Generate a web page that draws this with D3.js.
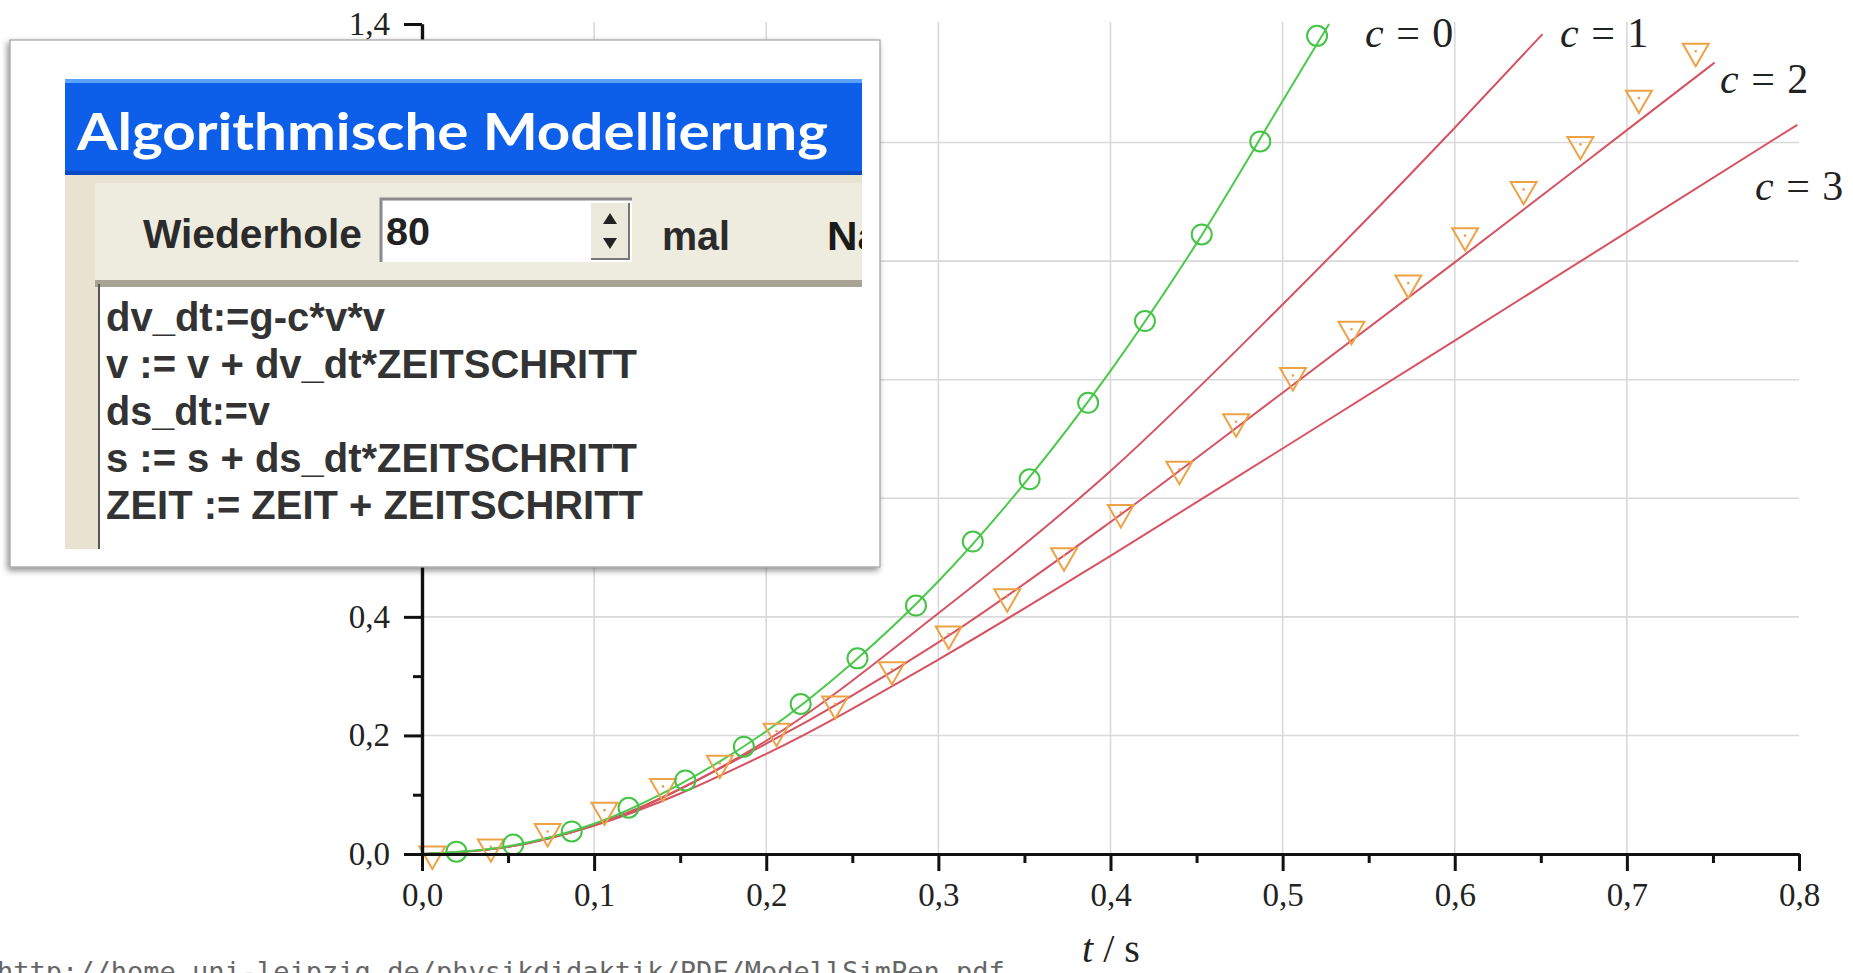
<!DOCTYPE html>
<html>
<head>
<meta charset="utf-8">
<script src="https://cdn.jsdelivr.net/npm/d3@7"></script>
<style>
body { margin: 0; background: #fff; overflow: hidden; }
</style>
</head>
<body>
<script>
// measured points, c = 0 (circles)
var circleT = [0.020, 0.053, 0.087, 0.120, 0.153, 0.187, 0.220, 0.253, 0.287, 0.320, 0.353, 0.387, 0.420, 0.453, 0.487, 0.520];
var circleS = [0.004, 0.016, 0.038, 0.078, 0.124, 0.181, 0.253, 0.330, 0.419, 0.527, 0.632, 0.761, 0.899, 1.045, 1.202, 1.380];

// measured points, triangles
var triT = [0.006, 0.040, 0.073, 0.106, 0.140, 0.173, 0.206, 0.240, 0.273, 0.306, 0.340, 0.373, 0.406, 0.440, 0.473, 0.506, 0.540, 0.573, 0.606, 0.640, 0.673, 0.707, 0.740];
var triS = [0.000, 0.012, 0.038, 0.074, 0.114, 0.153, 0.207, 0.253, 0.311, 0.371, 0.434, 0.503, 0.576, 0.649, 0.729, 0.807, 0.885, 0.963, 1.043, 1.121, 1.197, 1.275, 1.354];

// model curves
var lineT0 = [0, 0.05, 0.1, 0.15, 0.2, 0.25, 0.3, 0.35, 0.4, 0.45, 0.5, 0.527];
var lineS0 = [0, 0.013, 0.051, 0.118, 0.207, 0.322, 0.460, 0.625, 0.815, 1.030, 1.270, 1.400];
var lineT1 = [0, 0.05, 0.1, 0.2, 0.3, 0.4, 0.5, 0.6, 0.651];
var lineS1 = [0, 0.012, 0.049, 0.191, 0.406, 0.646, 0.927, 1.225, 1.383];
var lineT2 = [0, 0.05, 0.1, 0.2, 0.3, 0.4, 0.5, 0.6, 0.7, 0.751];
var lineS2 = [0, 0.012, 0.048, 0.186, 0.357, 0.560, 0.778, 0.998, 1.221, 1.335];
var lineT3 = [0, 0.05, 0.1, 0.2, 0.3, 0.4, 0.5, 0.6, 0.7, 0.799];
var lineS3 = [0, 0.012, 0.048, 0.169, 0.328, 0.503, 0.684, 0.866, 1.049, 1.230];

var xTicks = [0, 0.1, 0.2, 0.3, 0.4, 0.5, 0.6, 0.7, 0.8];
var xMinor = [0.05, 0.15, 0.25, 0.35, 0.45, 0.55, 0.65, 0.75];
var yTicks = [0, 0.2, 0.4, 0.6, 0.8, 1.0, 1.2, 1.4];
var yMinor = [0.1, 0.3, 0.5, 0.7, 0.9, 1.1, 1.3];
var curveLabels = ["c = 0", "c = 1", "c = 2", "c = 3"];

var codeLines = ["dv_dt:=g-c*v*v", "v := v + dv_dt*ZEITSCHRITT", "ds_dt:=v",
                 "s := s + ds_dt*ZEITSCHRITT", "ZEIT := ZEIT + ZEITSCHRITT"];
var codeWidths = [279, 531, 164, 531, 537];

var W = 1853, H = 973;
var svg = d3.select("body").append("svg")
    .attr("width", W)
    .attr("height", H);

var x = d3.scaleLinear().domain([0, 0.8]).range([422, 1799]);
var y = d3.scaleLinear().domain([0, 1.4]).range([854, 24]);
var comma = function(d) { return d.toFixed(1).replace(".", ","); };
// y labels that sit under the inset window are not visible
var yLabel = function(d) { return (y(d) > 40 && y(d) < 567) ? "" : comma(d); };

// grid
svg.append("g").selectAll("line")
    .data(xTicks.slice(1, 8))
    .enter().append("line")
    .attr("x1", function(d) { return x(d); })
    .attr("x2", function(d) { return x(d); })
    .attr("y1", y(0)).attr("y2", y(1.4) - 2)
    .attr("stroke", "#d9d9d9").attr("stroke-width", 1.6);
svg.append("g").selectAll("line")
    .data(yTicks.slice(1, 7))
    .enter().append("line")
    .attr("x1", x(0)).attr("x2", x(0.8))
    .attr("y1", function(d) { return y(d); })
    .attr("y2", function(d) { return y(d); })
    .attr("stroke", "#d9d9d9").attr("stroke-width", 1.6);

function pairs(t, s) { return t.map(function(d, i) { return [d, s[i]]; }); }
var line = d3.line()
    .x(function(d) { return x(d[0]); })
    .y(function(d) { return y(d[1]); })
    .curve(d3.curveMonotoneX);

var red = "#d65361";
[[lineT3, lineS3], [lineT2, lineS2], [lineT1, lineS1]].forEach(function(c) {
    svg.append("path")
        .datum(pairs(c[0], c[1]))
        .attr("fill", "none")
        .attr("stroke", red)
        .attr("stroke-width", 2)
        .attr("d", line);
});
svg.append("path")
    .datum(pairs(lineT0, lineS0))
    .attr("fill", "none")
    .attr("stroke", "#4cc94c")
    .attr("stroke-width", 2)
    .attr("d", line);

// triangles
var tri = d3.symbol().type(d3.symbolTriangle).size(290);
svg.append("g").selectAll("path")
    .data(pairs(triT, triS))
    .enter().append("path")
    .attr("d", tri)
    .attr("transform", function(d) { return "translate(" + x(d[0]) + "," + y(d[1]) + ") rotate(180)"; })
    .attr("fill", "none")
    .attr("stroke", "#eea246")
    .attr("stroke-width", 2);
svg.append("g").selectAll("circle")
    .data(pairs(triT, triS))
    .enter().append("circle")
    .attr("cx", function(d) { return x(d[0]); })
    .attr("cy", function(d) { return y(d[1]); })
    .attr("r", 1.3)
    .attr("fill", "#eea246");

// circles
svg.append("g").selectAll("circle")
    .data(pairs(circleT, circleS))
    .enter().append("circle")
    .attr("cx", function(d) { return x(d[0]); })
    .attr("cy", function(d) { return y(d[1]); })
    .attr("r", 10)
    .attr("fill", "none")
    .attr("stroke", "#44c444")
    .attr("stroke-width", 2);

// axes
var serif = "'Liberation Serif', 'Times New Roman', serif";
function styleAxis(g) {
    g.select(".domain").attr("stroke", "#111").attr("stroke-width", 3.2);
    g.selectAll(".tick line").attr("stroke", "#111").attr("stroke-width", 3);
    g.selectAll(".tick text").attr("fill", "#222")
        .style("font-family", serif).style("font-size", "33px");
}
svg.append("g")
    .attr("transform", "translate(0," + y(0) + ")")
    .call(d3.axisBottom(x).tickValues(xMinor).tickSize(9).tickSizeOuter(0).tickFormat(""))
    .call(styleAxis);
svg.append("g")
    .attr("transform", "translate(0," + y(0) + ")")
    .call(d3.axisBottom(x).tickValues(xTicks).tickSize(17).tickSizeOuter(0).tickPadding(12).tickFormat(comma))
    .call(styleAxis);
svg.append("g")
    .attr("transform", "translate(" + x(0) + ",0)")
    .call(d3.axisLeft(y).tickValues(yMinor).tickSize(9).tickSizeOuter(0).tickFormat(""))
    .call(styleAxis);
svg.append("g")
    .attr("transform", "translate(" + x(0) + ",0)")
    .call(d3.axisLeft(y).tickValues(yTicks).tickSize(18).tickSizeOuter(0).tickPadding(14).tickFormat(yLabel))
    .call(styleAxis);

// curve labels
var labelPos = [[1365, 47], [1560, 47], [1720, 93], [1755, 200]];
curveLabels.forEach(function(l, i) {
    var t = svg.append("text")
        .attr("x", labelPos[i][0]).attr("y", labelPos[i][1])
        .attr("fill", "#222")
        .style("font-family", serif).style("font-size", "42px")
        .style("word-spacing", "2px");
    t.append("tspan").style("font-style", "italic").text(l.slice(0, 1));
    t.append("tspan").text(l.slice(1));
});

var tl = svg.append("text")
    .attr("x", 1111).attr("y", 962)
    .attr("text-anchor", "middle")
    .attr("fill", "#222")
    .style("font-family", serif).style("font-size", "40px");
tl.append("tspan").style("font-style", "italic").text("t");
tl.append("tspan").text(" / s");

// inset window
var defs = svg.append("defs");
var f = defs.append("filter").attr("id", "shadow")
    .attr("x", "-5%").attr("y", "-5%").attr("width", "110%").attr("height", "112%");
f.append("feDropShadow").attr("dx", -2).attr("dy", 3).attr("stdDeviation", 3)
    .attr("flood-color", "#000").attr("flood-opacity", 0.45);
defs.append("clipPath").attr("id", "panel")
    .append("rect").attr("x", 65).attr("y", 79).attr("width", 797).attr("height", 470);

var inset = svg.append("g");
inset.append("rect")
    .attr("x", 10).attr("y", 40).attr("width", 870).attr("height", 527)
    .attr("fill", "#fff").attr("stroke", "#a0a0a0").attr("stroke-width", 1.2)
    .attr("filter", "url(#shadow)");

var p = inset.append("g").attr("clip-path", "url(#panel)");
p.append("rect").attr("x", 65).attr("y", 79).attr("width", 797).attr("height", 96).attr("fill", "#0d5fea");
p.append("rect").attr("x", 65).attr("y", 79).attr("width", 797).attr("height", 4).attr("fill", "#5da2ff");
p.append("rect").attr("x", 65).attr("y", 171).attr("width", 797).attr("height", 4).attr("fill", "#0849c4");
p.append("text")
    .attr("x", 77).attr("y", 150)
    .attr("fill", "#fff")
    .attr("textLength", 751).attr("lengthAdjust", "spacingAndGlyphs")
    .style("font-family", "Lato, 'DejaVu Sans', sans-serif").style("font-weight", "bold").style("font-size", "52px")
    .text("Algorithmische Modellierung");

p.append("rect").attr("x", 65).attr("y", 175).attr("width", 797).attr("height", 374).attr("fill", "#e7e3d0");
p.append("rect").attr("x", 95).attr("y", 183).attr("width", 767).attr("height", 98).attr("fill", "#eeebdf");

var bold = "'Liberation Sans', Arial, sans-serif";
var narrow = "'Liberation Sans Narrow', 'Liberation Sans', Arial, sans-serif";
p.append("text")
    .attr("x", 143).attr("y", 248).attr("fill", "#2b2b2b")
    .attr("textLength", 219).attr("lengthAdjust", "spacingAndGlyphs")
    .style("font-family", bold).style("font-weight", "bold").style("font-size", "40px")
    .text("Wiederhole");

// spin box
p.append("rect").attr("x", 381).attr("y", 199).attr("width", 251).attr("height", 63).attr("fill", "#fff");
p.append("path").attr("d", "M381,262 V199 H632").attr("fill", "none").attr("stroke", "#8a8a8a").attr("stroke-width", 3);
p.append("rect").attr("x", 591).attr("y", 203).attr("width", 38).attr("height", 56).attr("fill", "#ebe8dc");
p.append("path").attr("d", "M591,259 H629 V203").attr("fill", "none").attr("stroke", "#777").attr("stroke-width", 2);
p.append("path").attr("d", "M603,224 L610,213 L617,224 Z").attr("fill", "#222");
p.append("path").attr("d", "M603,238 L610,249 L617,238 Z").attr("fill", "#222");
p.append("text")
    .attr("x", 386).attr("y", 245).attr("fill", "#222")
    .attr("textLength", 44).attr("lengthAdjust", "spacingAndGlyphs")
    .style("font-family", narrow).style("font-weight", "bold").style("font-size", "38px")
    .text("80");
p.append("text")
    .attr("x", 662).attr("y", 250).attr("fill", "#2b2b2b")
    .attr("textLength", 68).attr("lengthAdjust", "spacingAndGlyphs")
    .style("font-family", bold).style("font-weight", "bold").style("font-size", "40px")
    .text("mal");
p.append("text")
    .attr("x", 827).attr("y", 250).attr("fill", "#1a1a1a")
    .attr("textLength", 54).attr("lengthAdjust", "spacingAndGlyphs")
    .style("font-family", bold).style("font-weight", "bold").style("font-size", "40px")
    .text("Na");

// code area
p.append("rect").attr("x", 98).attr("y", 280).attr("width", 764).attr("height", 269).attr("fill", "#fff");
p.append("rect").attr("x", 95).attr("y", 280).attr("width", 767).attr("height", 7).attr("fill", "#a7a493");
p.append("line").attr("x1", 99).attr("x2", 99).attr("y1", 284).attr("y2", 549)
    .attr("stroke", "#555").attr("stroke-width", 2);
p.selectAll(".code")
    .data(codeLines)
    .enter().append("text")
    .attr("class", "code")
    .attr("x", 106)
    .attr("y", function(d, i) { return 331 + i * 47; })
    .attr("fill", "#333")
    .attr("textLength", function(d, i) { return codeWidths[i]; })
    .attr("lengthAdjust", "spacingAndGlyphs")
    .style("font-family", narrow).style("font-weight", "bold").style("font-size", "40px")
    .text(function(d) { return d; });

// source line, cut at the bottom
svg.append("text")
    .attr("x", -3).attr("y", 981)
    .attr("fill", "#666")
    .style("font-family", "'DejaVu Sans Mono', monospace").style("font-size", "27px")
    .text("http://home.uni-leipzig.de/physikdidaktik/PDF/ModellSimPen.pdf");
</script>
</body>
</html>
